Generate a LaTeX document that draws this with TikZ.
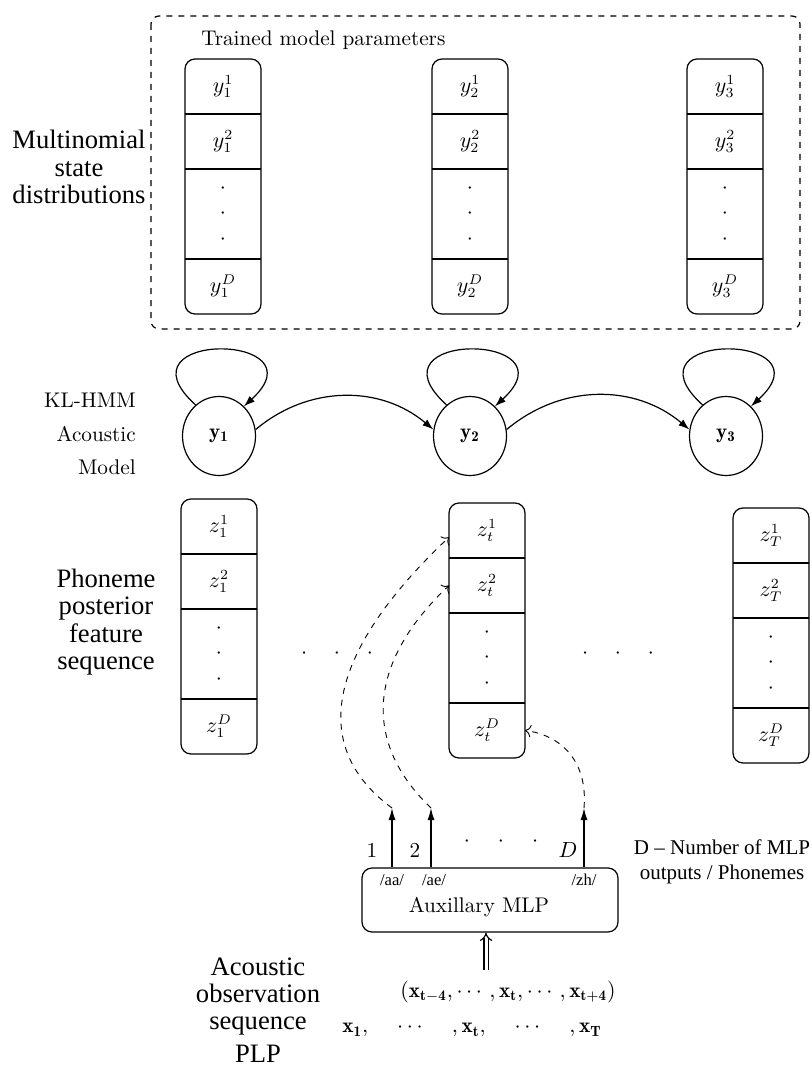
\documentclass[tikz,border=0pt]{standalone}
\usepackage{amsmath}
\usepackage{fontspec}
\newfontfamily\tnr{Liberation Serif}
\usetikzlibrary{arrows.meta,positioning,shapes.geometric}

\begin{document}
\begin{tikzpicture}[x=0.5pt,y=0.5pt,line width=0.6pt,
every node/.style={font=\fontsize{10.6}{12.7}\selectfont},
cell/.style={rectangle,minimum width=38pt,minimum height=27.5pt,inner sep=0pt,outer sep=0pt},
dotcell/.style={minimum height=45pt,align=center},
hmmstate/.style={ellipse,draw,minimum width=36.5pt,minimum height=39.5pt,inner sep=0pt},
biglabel/.style={font=\tnr\fontsize{13.3}{13.6}\selectfont,align=center,inner sep=1pt},
phontag/.style={font=\tnr\fontsize{8.3}{10}\selectfont,inner sep=0pt},
hop/.style={-{Latex[length=5.5pt,width=3.8pt]}},
outarrow/.style={-{Latex[length=6pt,width=3.5pt]}},
feed/.style={dashed,line width=0.45pt,-{To[length=3pt]}}]
\useasboundingbox (0,0) rectangle (812,-1065);

% trained parameters and feature vectors
\draw[dashed,rounded corners=4pt] (151,-16) rectangle (800,-329);
\node[anchor=west] (trained) at (194,-40) {Trained model parameters};
\foreach \n/\v/\s/\x/\y in {ya/y/1/223/59,yb/y/2/470/59,yc/y/3/725/59,
  za/z/1/219/499,zb/z/t/487/503,zc/z/T/771/508}{
  \node[cell,anchor=north] (\n1) at (\x,-\y) {$\v_{\s}^{1}$};
  \node[cell,below=0pt of \n1] (\n2) {$\v_{\s}^{2}$};
  \node[cell,dotcell,below=0pt of \n2] (\n3) {$\cdot$\\$\cdot$\\$\cdot$};
  \node[cell,below=0pt of \n3] (\n4) {$\v_{\s}^{D}$};
  \draw[rounded corners=5pt] (\n1.north west) rectangle (\n4.south east);
  \draw (\n2.north west) -- (\n2.north east);
  \draw (\n3.north west) -- (\n3.north east);
  \draw (\n4.north west) -- (\n4.north east);
}
\node[biglabel] (mult) at (79,-167) {Multinomial\\state\\distributions};
\node[biglabel] (phon) at (106,-622) {Phoneme\\posterior\\feature\\sequence};
\node (gap1) at (337,-654) {$\cdot$\hspace{13.4pt}$\cdot$\hspace{13.4pt}$\cdot$};
\node (gap2) at (618,-654) {$\cdot$\hspace{13.4pt}$\cdot$\hspace{13.4pt}$\cdot$};

% KL-HMM
\node[align=right,anchor=east] (klhmm) at (143,-434) {KL-HMM\\[4pt]Acoustic\\[4pt]Model};
\node[hmmstate] (y1) at (219,-436) {$\mathbf{y_1}$};
\node[hmmstate] (y2) at (470,-436) {$\mathbf{y_2}$};
\node[hmmstate] (y3) at (726,-436) {$\mathbf{y_3}$};
\foreach \s in {y1,y2,y3}
  \draw[hop] (\s.127) .. controls +(-83,75) and +(81,74) .. (\s.50);
\draw[hop] (y1.10) to[out=40,in=140] (y2.170);
\draw[hop] (y2.10) to[out=40,in=140] (y3.170);

% auxillary MLP
\node[draw,rounded corners=5pt,minimum width=128pt,minimum height=32pt,inner sep=0pt] (mlp) at (490,-900) {};
\node (mlptxt) at (479,-907) {Auxillary MLP};
\node[phontag] (aa) at (392,-880) {/aa/};
\node[phontag] (ae) at (434,-880) {/ae/};
\node[phontag] (zh) at (584,-880) {/zh/};
\coordinate (o1) at (392,-808);
\coordinate (o2) at (431,-808);
\coordinate (oD) at (584,-808);
\draw[outarrow] (o1 |- mlp.north) -- (o1);
\draw[outarrow] (o2 |- mlp.north) -- (o2);
\draw[outarrow] (oD |- mlp.north) -- (oD);
\node (l1) at (372,-850) {1};
\node (l2) at (415,-850) {2};
\node (lD) at (568,-850) {$D$};
\node (odots) at (501,-842) {$\cdot$\hspace{14pt}$\cdot$\hspace{14pt}$\cdot$};
\node[font=\tnr\fontsize{10.5}{12.5}\selectfont,align=center] (dnote) at (722,-862) {D – Number of MLP\\outputs / Phonemes};
\draw[feed] (o1) .. controls (300,-740) and (340,-640) .. (zb1.190);
\draw[feed] (o2) .. controls (360,-740) and (370,-660) .. (zb2.west);
\draw[feed] (oD) .. controls (588,-760) and (560,-735) .. (zb4.east);

% acoustic input
\coordinate (xin) at (486,-970);
\draw[double,double distance=1.5pt,-Implies] (xin) -- (xin |- mlp.south);
\node (win) at (508,-992) {$(\mathbf{x_{t-4}}, \cdots, \mathbf{x_t}, \cdots, \mathbf{x_{t+4}})$};
\node (seq) at (472,-1030) {$\mathbf{x_1},\hspace{1.2em}\cdots\hspace{1.2em},\mathbf{x_t},\hspace{1.2em}\cdots\hspace{1.2em},\mathbf{x_T}$};
\node[biglabel] (acou) at (258,-1010) {Acoustic\\observation\\sequence\\[2.5pt]PLP};
\end{tikzpicture}
\end{document}
